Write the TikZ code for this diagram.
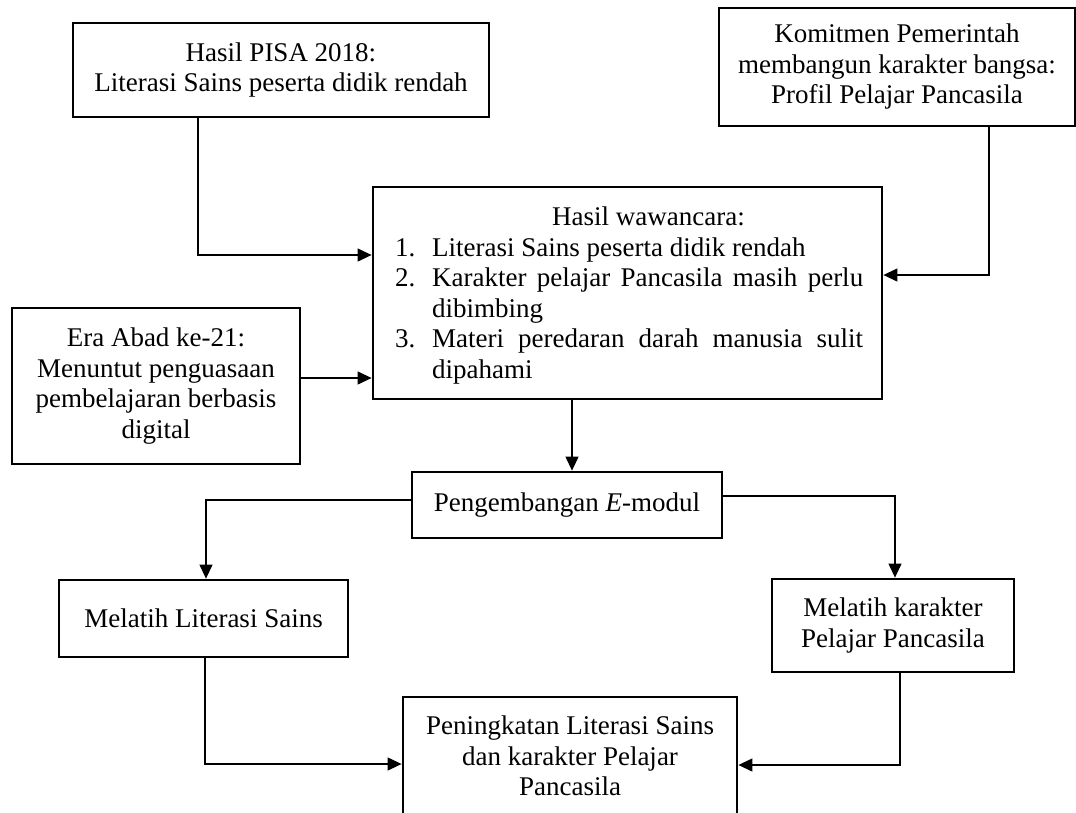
\documentclass[tikz,border=0pt]{standalone}
\usepackage{fontspec}
\setmainfont{Liberation Serif}
\usetikzlibrary{arrows.meta}
\newcommand\dfs{\fontsize{27}{30.5}\selectfont}
\begin{document}
\begin{tikzpicture}[x=1pt,y=-1pt,
  box/.style={draw, line width=2.8pt, inner sep=0pt, align=center, font=\dfs},
  txt/.style={inner sep=0pt, align=left, font=\dfs},
  conn/.style={line width=1.2pt, -{Triangle[length=14pt,width=13pt]}}]
\useasboundingbox (0,0) rectangle (1076,812);

% boxes
\node[box, minimum width=416pt, minimum height=94pt] (b1) at (281,70)
  {Hasil PISA 2018:\\Literasi Sains peserta didik rendah};
\node[box, minimum width=356pt, minimum height=118pt] (b2) at (897,67)
  {Komitmen Pemerintah\\membangun karakter bangsa:\\Profil Pelajar Pancasila};
\node[box, minimum width=509pt, minimum height=212pt] (b3) at (627.5,293) {};
\node[txt, anchor=base west] (b3t) at (395,378) {%
  \hspace*{157pt}Hasil wawancara:\\
  \makebox[37pt][l]{1.}Literasi Sains peserta didik rendah\\
  \makebox[37pt][l]{2.}\makebox[431pt][s]{Karakter pelajar Pancasila masih perlu}\\
  \hspace*{37pt}dibimbing\\
  \makebox[37pt][l]{3.}\makebox[431pt][s]{Materi peredaran darah manusia sulit}\\
  \hspace*{37pt}dipahami};
\node[box, minimum width=288pt, minimum height=156pt] (b4) at (156,386)
  {Era Abad ke-21:\\Menuntut penguasaan\\pembelajaran berbasis\\digital};
\node[box, minimum width=310pt, minimum height=66pt] (b5) at (567,505)
  {Pengembangan \textit{E}-modul};
\node[box, minimum width=289pt, minimum height=77pt] (b6) at (203.5,618.5)
  {Melatih Literasi Sains};
\node[box, minimum width=242pt, minimum height=93pt] (b7) at (893,625.5)
  {Melatih karakter\\Pelajar Pancasila};
\node[box, minimum width=334pt, minimum height=118pt] (b8) at (570,756)
  {Peningkatan Literasi Sains\\dan karakter Pelajar\\Pancasila};

% bend coordinates
\coordinate (k1) at (198,255);
\coordinate (k2) at (989,275);
\coordinate (k3) at (0,378);
\coordinate (k4) at (572,0);
\coordinate (k5) at (206,500);
\coordinate (k6) at (895,496);
\coordinate (k7) at (205,764);
\coordinate (k8) at (900,765);

% connectors
\draw[conn] (b1.south -| k1) |- (b3.west |- k1);
\draw[conn] (b2.south -| k2) |- (b3.east |- k2);
\draw[conn] (b4.east |- k3) -- (b3.west |- k3);
\draw[conn] (b3.south -| k4) -- (b5.north -| k4);
\draw[conn] (b5.west |- k5) -| (b6.north -| k5);
\draw[conn] (b5.east |- k6) -| (b7.north -| k6);
\draw[conn] (b6.south -| k7) |- (b8.west |- k7);
\draw[conn] (b7.south -| k8) |- (b8.east |- k8);
\end{tikzpicture}
\end{document}
